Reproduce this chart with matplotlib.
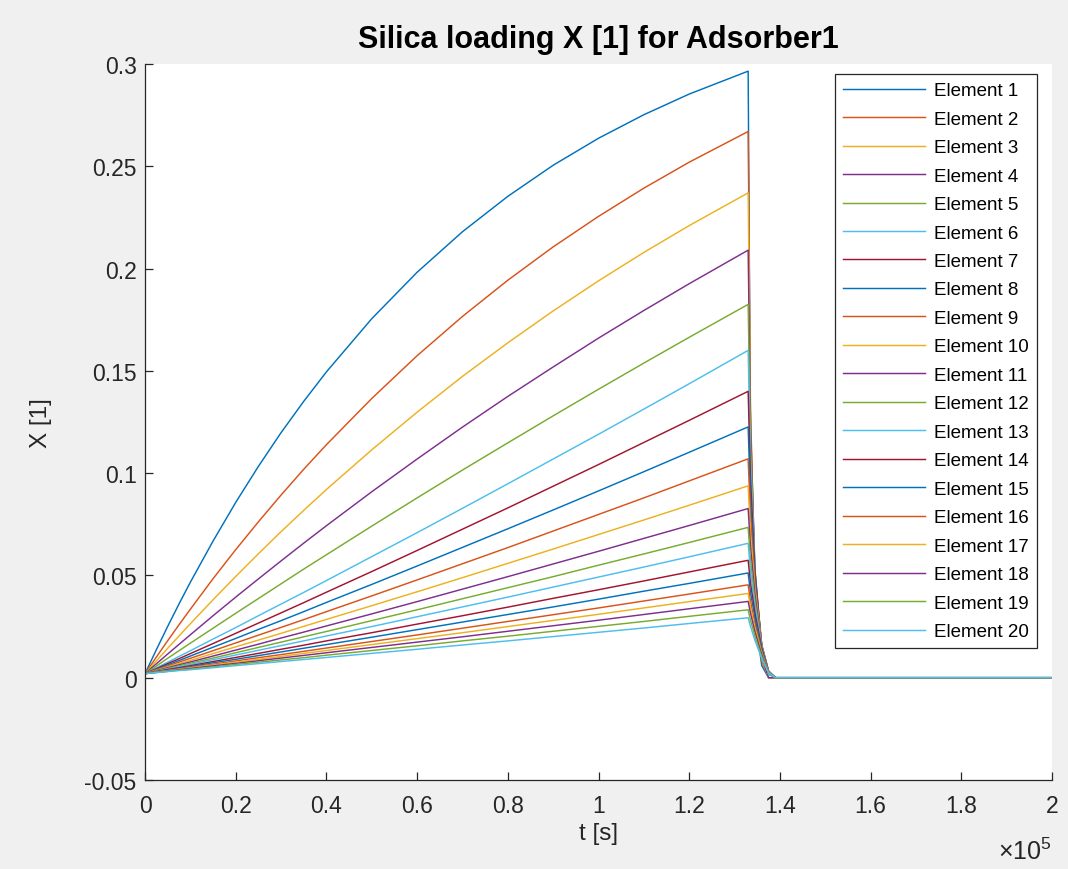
import matplotlib
matplotlib.use("Agg")
import matplotlib.pyplot as plt
from matplotlib.ticker import FuncFormatter, MultipleLocator

plt.rcParams["font.family"] = ["Liberation Sans", "DejaVu Sans"]
plt.rcParams["mathtext.fontset"] = "custom"
plt.rcParams["mathtext.rm"] = "Liberation Sans"
plt.rcParams["mathtext.it"] = "Liberation Sans:italic"

# time [s]: adsorption up to 1.33e5 s, then regeneration
t_s = [0, 2500, 5000, 7500, 10000, 15000, 20000, 25000, 30000, 35000,
       40000, 50000, 60000, 70000, 80000, 90000, 100000, 110000, 120000, 133000,
       133500, 134500, 136000, 137500, 139000, 200000]

# silica loading X [1] per bed element
el_01 = [0.002, 0.0137, 0.0251, 0.0361, 0.0467, 0.0668, 0.0857, 0.1033, 0.1198, 0.1351, 0.1495, 0.1755, 0.1982, 0.2180, 0.2353, 0.2505, 0.2637, 0.2752, 0.2853, 0.2965, 0.1186, 0.0297, 0.0059, 0, 0, 0]
el_02 = [0.002, 0.0101, 0.0181, 0.0259, 0.0335, 0.0484, 0.0626, 0.0762, 0.0893, 0.1019, 0.1139, 0.1365, 0.1574, 0.1766, 0.1943, 0.2106, 0.2255, 0.2393, 0.2520, 0.2670, 0.1335, 0.0427, 0.0080, 0, 0, 0]
el_03 = [0.002, 0.0082, 0.0144, 0.0204, 0.0264, 0.0381, 0.0495, 0.0606, 0.0714, 0.0818, 0.0920, 0.1114, 0.1298, 0.1473, 0.1637, 0.1793, 0.1940, 0.2079, 0.2210, 0.2370, 0.1304, 0.0474, 0.0095, 0, 0, 0]
el_04 = [0.002, 0.0068, 0.0116, 0.0163, 0.0210, 0.0303, 0.0394, 0.0483, 0.0571, 0.0658, 0.0743, 0.0909, 0.1069, 0.1225, 0.1375, 0.1519, 0.1660, 0.1795, 0.1926, 0.2090, 0.1254, 0.0523, 0.0105, 0, 0, 0]
el_05 = [0.002, 0.0057, 0.0095, 0.0132, 0.0169, 0.0242, 0.0315, 0.0387, 0.0459, 0.0531, 0.0601, 0.0741, 0.0879, 0.1015, 0.1148, 0.1280, 0.1410, 0.1538, 0.1664, 0.1825, 0.1168, 0.0529, 0.0128, 0.0018, 0, 0]
el_06 = [0.002, 0.0048, 0.0076, 0.0104, 0.0132, 0.0189, 0.0245, 0.0303, 0.0360, 0.0417, 0.0475, 0.0592, 0.0709, 0.0828, 0.0948, 0.1069, 0.1190, 0.1313, 0.1437, 0.1600, 0.1072, 0.0528, 0.0144, 0.0016, 0, 0]
el_07 = [0.002, 0.0044, 0.0069, 0.0093, 0.0118, 0.0167, 0.0217, 0.0267, 0.0317, 0.0367, 0.0418, 0.0519, 0.0622, 0.0726, 0.0830, 0.0936, 0.1042, 0.1150, 0.1258, 0.1400, 0.0980, 0.0518, 0.0154, 0.0028, 0, 0]
el_08 = [0.002, 0.0041, 0.0063, 0.0084, 0.0106, 0.0149, 0.0192, 0.0236, 0.0279, 0.0323, 0.0368, 0.0456, 0.0546, 0.0637, 0.0728, 0.0820, 0.0913, 0.1007, 0.1102, 0.1226, 0.0883, 0.0490, 0.0159, 0.0025, 0, 0]
el_09 = [0.002, 0.0039, 0.0057, 0.0076, 0.0095, 0.0132, 0.0170, 0.0208, 0.0246, 0.0284, 0.0323, 0.0400, 0.0478, 0.0557, 0.0636, 0.0717, 0.0798, 0.0879, 0.0962, 0.1070, 0.0792, 0.0460, 0.0161, 0.0032, 0, 0]
el_10 = [0.002, 0.0036, 0.0053, 0.0069, 0.0085, 0.0118, 0.0151, 0.0184, 0.0217, 0.0251, 0.0285, 0.0352, 0.0420, 0.0489, 0.0559, 0.0629, 0.0700, 0.0771, 0.0843, 0.0938, 0.0713, 0.0431, 0.0159, 0.0028, 0, 0]
el_11 = [0.002, 0.0034, 0.0049, 0.0063, 0.0077, 0.0106, 0.0135, 0.0164, 0.0194, 0.0223, 0.0253, 0.0312, 0.0372, 0.0433, 0.0494, 0.0556, 0.0618, 0.0681, 0.0744, 0.0827, 0.0645, 0.0405, 0.0157, 0.0033, 0, 0]
el_12 = [0.002, 0.0033, 0.0045, 0.0058, 0.0071, 0.0096, 0.0122, 0.0148, 0.0174, 0.0200, 0.0226, 0.0279, 0.0332, 0.0386, 0.0440, 0.0494, 0.0550, 0.0605, 0.0661, 0.0735, 0.0581, 0.0375, 0.0154, 0.0029, 0, 0]
el_13 = [0.002, 0.0031, 0.0043, 0.0054, 0.0065, 0.0088, 0.0111, 0.0134, 0.0157, 0.0180, 0.0204, 0.0250, 0.0298, 0.0346, 0.0394, 0.0443, 0.0492, 0.0541, 0.0591, 0.0657, 0.0526, 0.0348, 0.0151, 0.0033, 0, 0]
el_14 = [0.002, 0.0030, 0.0040, 0.0049, 0.0059, 0.0079, 0.0099, 0.0119, 0.0139, 0.0159, 0.0180, 0.0220, 0.0262, 0.0303, 0.0345, 0.0388, 0.0430, 0.0473, 0.0517, 0.0574, 0.0465, 0.0316, 0.0144, 0.0029, 0, 0]
el_15 = [0.002, 0.0029, 0.0037, 0.0046, 0.0055, 0.0073, 0.0090, 0.0108, 0.0126, 0.0144, 0.0162, 0.0198, 0.0235, 0.0272, 0.0309, 0.0346, 0.0384, 0.0423, 0.0461, 0.0512, 0.0420, 0.0292, 0.0138, 0.0031, 0, 0]
el_16 = [0.002, 0.0028, 0.0035, 0.0043, 0.0051, 0.0066, 0.0082, 0.0098, 0.0113, 0.0129, 0.0145, 0.0177, 0.0209, 0.0242, 0.0275, 0.0308, 0.0341, 0.0375, 0.0409, 0.0454, 0.0377, 0.0263, 0.0127, 0.0027, 0, 0]
el_17 = [0.002, 0.0027, 0.0034, 0.0041, 0.0048, 0.0062, 0.0076, 0.0090, 0.0104, 0.0119, 0.0133, 0.0162, 0.0191, 0.0220, 0.0250, 0.0280, 0.0310, 0.0341, 0.0372, 0.0412, 0.0346, 0.0243, 0.0119, 0.0029, 0, 0]
el_18 = [0.002, 0.0026, 0.0032, 0.0039, 0.0045, 0.0058, 0.0070, 0.0083, 0.0096, 0.0109, 0.0122, 0.0148, 0.0174, 0.0200, 0.0227, 0.0254, 0.0281, 0.0309, 0.0337, 0.0373, 0.0317, 0.0224, 0.0112, 0.0026, 0, 0]
el_19 = [0.002, 0.0026, 0.0031, 0.0037, 0.0042, 0.0053, 0.0065, 0.0076, 0.0087, 0.0098, 0.0110, 0.0133, 0.0156, 0.0180, 0.0203, 0.0227, 0.0251, 0.0275, 0.0300, 0.0332, 0.0282, 0.0203, 0.0103, 0.0027, 0, 0]
el_20 = [0.002, 0.0025, 0.0030, 0.0035, 0.0039, 0.0049, 0.0059, 0.0069, 0.0079, 0.0089, 0.0099, 0.0119, 0.0139, 0.0160, 0.0180, 0.0201, 0.0222, 0.0243, 0.0265, 0.0293, 0.0252, 0.0182, 0.0094, 0.0023, 0, 0]

elementos = [el_01, el_02, el_03, el_04, el_05, el_06, el_07, el_08, el_09, el_10,
             el_11, el_12, el_13, el_14, el_15, el_16, el_17, el_18, el_19, el_20]

# default MATLAB colour order
cores = ["#0072BD", "#D95319", "#EDB120", "#7E2F8E", "#77AC30", "#4DBEEE", "#A2142F"]

fig = plt.figure(figsize=(10.68, 8.70), dpi=100, facecolor="#f0f0f0")
ax = fig.add_axes([0.1358, 0.1023, 0.8492, 0.823])
ax.set_facecolor("white")

for i, y in enumerate(elementos):
    ax.plot(t_s, y, color=cores[i % len(cores)], linewidth=1.05,
            label=f"Element {i + 1}")

ax.set_xlim(0, 2e5)
ax.set_ylim(-0.05, 0.3)
ax.xaxis.set_major_locator(MultipleLocator(2e4))
ax.yaxis.set_major_locator(MultipleLocator(0.05))
ax.xaxis.set_major_formatter(FuncFormatter(lambda v, p: f"{v / 1e5:g}"))
ax.yaxis.set_major_formatter(FuncFormatter(lambda v, p: f"{v:g}"))

for lado in ["top", "right"]:
    ax.spines[lado].set_visible(False)
for lado in ["left", "bottom"]:
    ax.spines[lado].set_color("#262626")
    ax.spines[lado].set_linewidth(0.9)

ax.tick_params(direction="in", length=6, width=0.9, colors="#262626",
               labelsize=16.5)
ax.tick_params(axis="y", pad=6)
ax.tick_params(axis="x", pad=10)

ax.set_title("Silica loading X [1] for Adsorber1", fontsize=22,
             fontweight="bold", pad=12)
ax.set_xlabel("t [s]", fontsize=17.5, color="#262626")
ax.set_ylabel("X [1]", fontsize=17.5, color="#262626")
ax.xaxis.set_label_coords(0.5, -0.058)
ax.yaxis.set_label_coords(-0.1025, 0.5)

ax.text(1.0, -0.08, r"$\times10^{5}$", transform=ax.transAxes,
        ha="right", va="top", fontsize=18, color="#262626")

leg = ax.legend(loc="upper right", bbox_to_anchor=(0.9835, 0.986),
                fontsize=13.5, handlelength=4.4, handletextpad=0.48,
                labelspacing=0.605, borderpad=0.43, borderaxespad=0,
                fancybox=False, edgecolor="#262626", framealpha=1)
leg.get_frame().set_linewidth(0.9)

fig.savefig("out.png", dpi=100, facecolor=fig.get_facecolor())
